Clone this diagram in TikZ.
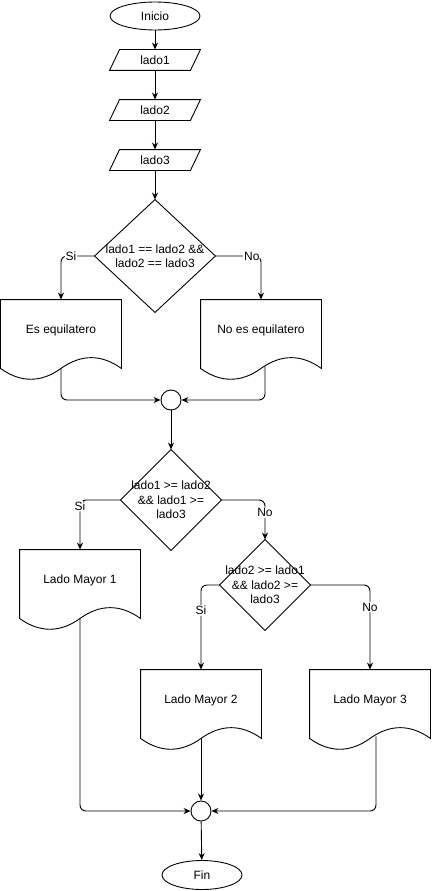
\documentclass[tikz,border=0pt]{standalone}
\usepackage{fontspec}
\setmainfont{Liberation Sans}
\usetikzlibrary{shapes.geometric,arrows.meta,calc}
\begin{document}
\begin{tikzpicture}[x=1pt,y=-1pt,
  font=\fontsize{12}{14.5}\selectfont,
  line width=0.9pt,
  term/.style={ellipse,draw,minimum width=90,minimum height=28,inner sep=0},
  iobox/.style={rectangle,minimum width=80,minimum height=20,inner sep=0},
  decbox/.style={rectangle,inner sep=0,align=center},
  docbox/.style={rectangle,minimum width=120,minimum height=60,inner sep=0},
  merge/.style={circle,draw,minimum size=20,inner sep=0},
  lbl/.style={fill=white,inner sep=1pt},
  arr/.style={-{Stealth[length=7pt,width=6pt]}},
  conn/.style={arr,rounded corners=6pt}
]
\useasboundingbox (0,0) rectangle (431,891);

% nodes
\node[term] (ini) at (155,16) {Inicio};
\node[iobox] (p1) at (155,60) {lado1};
\node[iobox] (p2) at (155,110) {lado2};
\node[iobox] (p3) at (155,160) {lado3};
\node[decbox,minimum width=120,minimum height=112] (dd1) at (155,256) {lado1 == lado2 \&\&\\lado2 == lado3};
\node[docbox] (es) at (61,330) {Es equilatero};
\node[docbox] (noes) at (261,330) {No es equilatero};
\node[merge] (m1) at (171,400) {};
\node[decbox,minimum width=100,minimum height=100] (dd2) at (171,500) {lado1 >= lado2\\\&\& lado1 >=\\lado3};
\node[docbox] (lm1) at (80,580) {Lado Mayor 1};
\node[decbox,minimum width=90,minimum height=90] (dd3) at (265,585) {lado2 >= lado1\\\&\& lado2 >=\\lado3};
\node[docbox] (lm2) at (201,700) {Lado Mayor 2};
\node[docbox] (lm3) at (370,700) {Lado Mayor 3};
\node[merge] (m2) at (201,811) {};
\node[term,minimum width=80,minimum height=29] (fin) at (202,875) {Fin};

% parallelograms
\foreach \n in {p1,p2,p3}{
  \draw ($(\n.north west)+(5,0)$) -- ($(\n.north east)+(5,0)$) -- ($(\n.south east)+(-5,0)$) -- ($(\n.south west)+(-5,0)$) -- cycle;
}
% diamonds
\foreach \n in {dd1,dd2,dd3}{
  \draw (\n.north) -- (\n.east) -- (\n.south) -- (\n.west) -- cycle;
}
% documents
\foreach \n in {es,noes,lm1,lm2,lm3}{
  \draw (\n.north west) -- (\n.north east) -- ($(\n.south east)+(0,8)$)
    .. controls +(-20,-14.4) and +(20,-14.4) .. ($(\n.south)+(0,8)$)
    .. controls +(-20,14.4) and +(20,14.4) .. ($(\n.south west)+(0,8)$) -- cycle;
}

% exit coordinates
\coordinate (esx) at ($(es.south)+(0,8)$);
\coordinate (noesx) at ($(noes.south)+(4,6)$);
\coordinate (lm1x) at ($(lm1.south)+(0,8)$);
\coordinate (lm2x) at ($(lm2.south)+(0,8)$);
\coordinate (lm3x) at ($(lm3.south)+(6,6)$);

% connectors
\draw[arr] (ini) -- (p1);
\draw[arr] (p1) -- (p2);
\draw[arr] (p2) -- (p3);
\draw[arr] (p3) -- (dd1.north);
\draw[conn] (dd1.west) -| node[lbl,pos=0.35] {Si} (es.north);
\draw[conn] (dd1.east) -| node[lbl,pos=0.4] {No} (noes.north);
\draw[conn] (esx) |- (m1.west);
\draw[conn] (noesx) |- (m1.east);
\draw[arr] (m1) -- (dd2.north);
\draw[conn] (dd2.west) -| node[lbl,pos=0.56] {Si} (lm1.north);
\draw[conn] (dd2.east) -| node[lbl,pos=0.66] {No} (dd3.north);
\draw[conn] (dd3.west) -| node[lbl,pos=0.65] {Si} (lm2.north);
\draw[conn] (dd3.east) -| node[lbl,pos=0.63] {No} (lm3.north);
\draw[conn] (lm1x) |- (m2.west);
\draw[arr] (lm2x) -- (m2.north);
\draw[conn] (lm3x) |- (m2.east);
\draw[arr] (m2) -- (fin);
\end{tikzpicture}
\end{document}
